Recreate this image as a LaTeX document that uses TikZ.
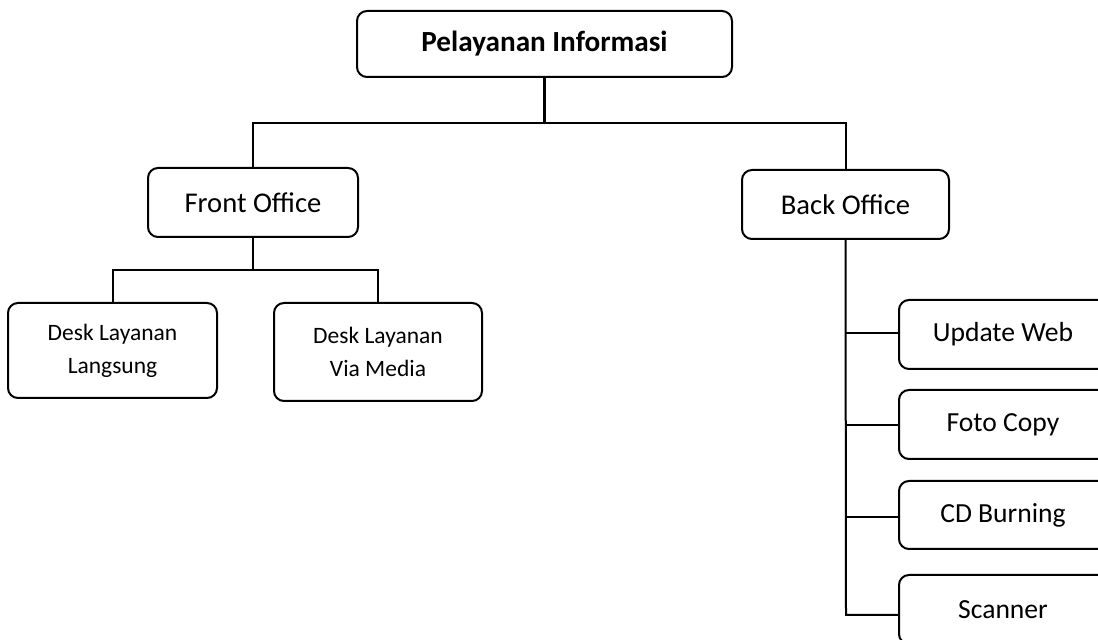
\documentclass[tikz,border=0pt]{standalone}
\usepackage{fontspec}
\setmainfont{Carlito}
\begin{document}
\begin{tikzpicture}[x=0.5pt,y=-0.5pt,
  box/.style={draw,rounded corners=5pt,line width=1pt,inner sep=0pt,align=center},
  big/.style={font=\fontsize{14.3}{17}\selectfont},
  small/.style={font=\fontsize{11.75}{16.5}\selectfont},
  rbox/.style={box,font=\fontsize{13.8}{17}\selectfont,minimum width=124pt,minimum height=34.5pt,
    execute at end node={\hspace*{20pt}}},
  link/.style={line width=1pt}]
\useasboundingbox (0,0) rectangle (1098,640);
\clip (0,0) rectangle (1098,640);
\node[box,minimum width=187.5pt,minimum height=33pt,font=\fontsize{14.6}{17}\selectfont\bfseries] (top) at (544.5,44) {Pelayanan Informasi};
\node[box,big,minimum width=105pt,minimum height=34.5pt] (fo) at (253,202.5) {Front Office};
\node[box,big,minimum width=103.5pt,minimum height=34.5pt] (bo) at (845.5,204.5) {Back Office};
\node[box,small,minimum width=104.5pt,minimum height=47.5pt] (d1) at (112.5,350.5) {Desk Layanan\\Langsung};
\node[box,small,minimum width=104pt,minimum height=49pt] (d2) at (378,352) {Desk Layanan\\Via Media};
\node[rbox] (uw) at (1023,334.5) {Update Web};
\node[rbox] (fc) at (1023,424.5) {Foto Copy};
\node[rbox,minimum height=34pt] (cd) at (1023,515) {CD Burning};
\node[rbox] (sc) at (1023,609.5) {Scanner};
% junctions
\coordinate (j1) at (545,123);
\coordinate (j2) at (253,270);
\coordinate (b1) at (846,333);
\coordinate (b2) at (846,425);
\coordinate (b3) at (846,517);
\coordinate (b4) at (846,615);
\draw[line width=1.3pt] (top.south) -- (top.south |- j1);
\draw[link] (fo.north) -- (fo.north |- j1) -- (bo.north |- j1) -- (bo.north);
\draw[line width=1.2pt] (fo.south) -- (j2);
\draw[link] (d1.north) -- (d1.north |- j2) -- (d2.north |- j2) -- (d2.north);
\draw[link] (bo.south) -- (b4) -- (b4 -| sc.west);
\draw[link] (b1) -- (b1 -| uw.west);
\draw[link] (b2) -- (b2 -| fc.west);
\draw[link] (b3) -- (b3 -| cd.west);
\end{tikzpicture}
\end{document}
